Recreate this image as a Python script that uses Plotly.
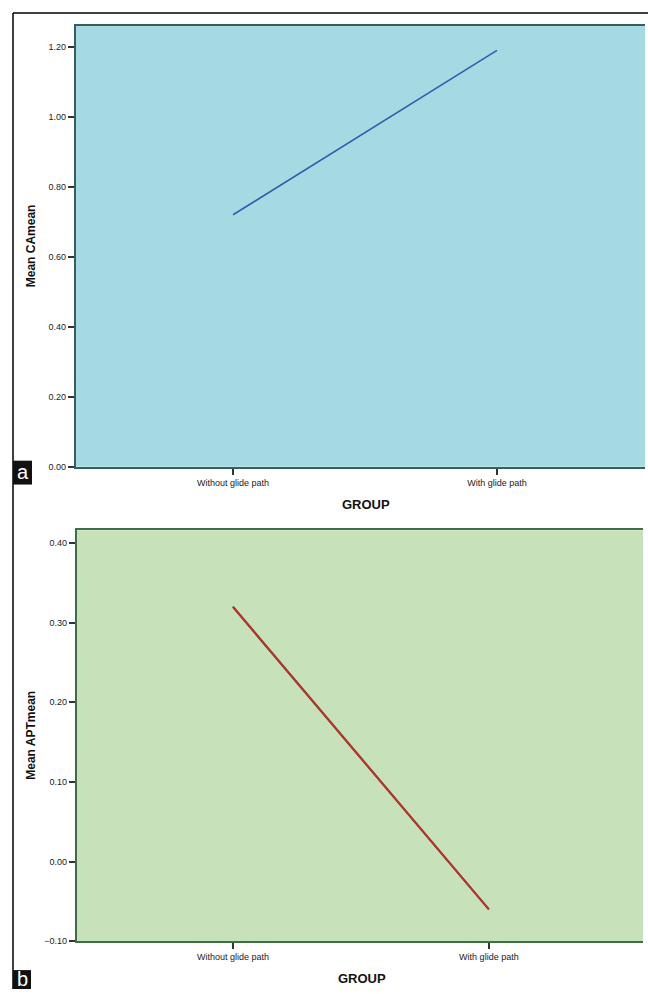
import plotly.graph_objects as go

# ---- data ----
groups = ["Without glide path", "With glide path"]
ca_mean = [0.72, 1.19]
apt_mean = [0.32, -0.06]
ca_ticks = [0.0, 0.2, 0.4, 0.6, 0.8, 1.0, 1.2]
apt_ticks = [-0.1, 0.0, 0.1, 0.2, 0.3, 0.4]

W, H = 648, 994
def px(x):
    return x / W
def py(y):
    return 1 - y / H

tick_font = dict(family="Liberation Sans, Arial, sans-serif", size=9, color="#222222")

fig = go.Figure()

# Panel a
fig.add_trace(go.Scatter(x=groups, y=ca_mean, mode="lines",
                         line=dict(color="#2d5fae", width=1.6),
                         xaxis="x", yaxis="y", showlegend=False, hoverinfo="skip"))
# Panel b (dark edge + red core)
fig.add_trace(go.Scatter(x=groups, y=apt_mean, mode="lines",
                         line=dict(color="#3d4a20", width=2.2),
                         xaxis="x2", yaxis="y2", showlegend=False, hoverinfo="skip"))
fig.add_trace(go.Scatter(x=groups, y=apt_mean, mode="lines",
                         line=dict(color="#ee1f2a", width=1.4),
                         xaxis="x2", yaxis="y2", showlegend=False, hoverinfo="skip"))

axis_common = dict(ticks="outside", ticklen=6, tickwidth=1.5, showgrid=False,
                   zeroline=False, tickfont=tick_font, fixedrange=True)

fig.update_layout(
    width=W, height=H,
    margin=dict(l=0, r=0, t=0, b=0),
    paper_bgcolor="white",
    plot_bgcolor="rgba(0,0,0,0)",
    xaxis=dict(domain=[px(76), px(645)], anchor="y", type="category",
               range=[-0.595, 1.561], showline=True, mirror=True,
               linecolor="#355e5e", linewidth=2.2, tickcolor="#333333", **axis_common),
    yaxis=dict(domain=[py(469), py(26)], anchor="x", range=[0, 1.26],
               tickvals=ca_ticks, tickformat=".2f", showline=True,
               linecolor="#355e5e", linewidth=2.2, tickcolor="#333333", **axis_common),
    xaxis2=dict(domain=[px(77), px(643)], anchor="y2", type="category",
                range=[-0.609, 1.602], showline=True, mirror=True,
                linecolor="#3f6d46", linewidth=2.2, tickcolor="#333333", **axis_common),
    yaxis2=dict(domain=[py(946), py(533)], anchor="x2", range=[-0.10, 0.416],
                tickvals=apt_ticks, tickformat=".2f", showline=True,
                linecolor="#3f6d46", linewidth=2.2, tickcolor="#333333", **axis_common),
)

shapes = [
    dict(type="rect", xref="x domain", yref="y domain", x0=0, x1=1, y0=0, y1=1,
         fillcolor="#a6dae2", line=dict(width=0), layer="below"),
    dict(type="rect", xref="x2 domain", yref="y2 domain", x0=0, x1=1, y0=0, y1=1,
         fillcolor="#c7e2bb", line=dict(width=0), layer="below"),
    dict(type="line", xref="paper", yref="paper", x0=px(13), x1=px(13), y0=py(13), y1=0,
         line=dict(color="black", width=1.5)),
    dict(type="line", xref="paper", yref="paper", x0=px(13), x1=1, y0=py(13), y1=py(13),
         line=dict(color="black", width=1.5)),
    dict(type="rect", xref="paper", yref="paper", x0=px(13), x1=px(32), y0=py(487), y1=py(463),
         fillcolor="#111111", line=dict(width=0)),
    dict(type="rect", xref="paper", yref="paper", x0=px(13), x1=px(31), y0=0, y1=py(975),
         fillcolor="#111111", line=dict(width=0)),
]
fig.update_layout(shapes=shapes)

bold = dict(family="Liberation Sans, Arial, sans-serif", size=12, color="#111111")
gfont = dict(family="Liberation Sans, Arial, sans-serif", size=13, color="#111111")
lfont = dict(family="Liberation Sans, Arial, sans-serif", size=20, color="white")
ann = dict(xref="paper", yref="paper", showarrow=False, xanchor="center", yanchor="middle")
annotations = [
    dict(text="<b>Mean CAmean</b>", x=px(31), y=(py(469) + py(26)) / 2, textangle=-90, font=bold, **ann),
    dict(text="<b>Mean APTmean</b>", x=px(31), y=(py(946) + py(533)) / 2, textangle=-90, font=bold, **ann),
    dict(text="<b>GROUP</b>", x=px(366), y=py(507), font=gfont, **ann),
    dict(text="<b>GROUP</b>", x=px(362), y=py(983), font=gfont, **ann),
    dict(text="a", x=px(22.5), y=py(474), font=lfont, **ann),
    dict(text="b", x=px(22), y=py(984), font=lfont, **ann),
]
fig.update_layout(annotations=annotations)

fig.write_html(
    "out.html",
    config={"displayModeBar": False},
    post_script="document.body.style.margin='0';document.body.style.overflow='hidden';"
                "document.documentElement.style.overflow='hidden';",
)
